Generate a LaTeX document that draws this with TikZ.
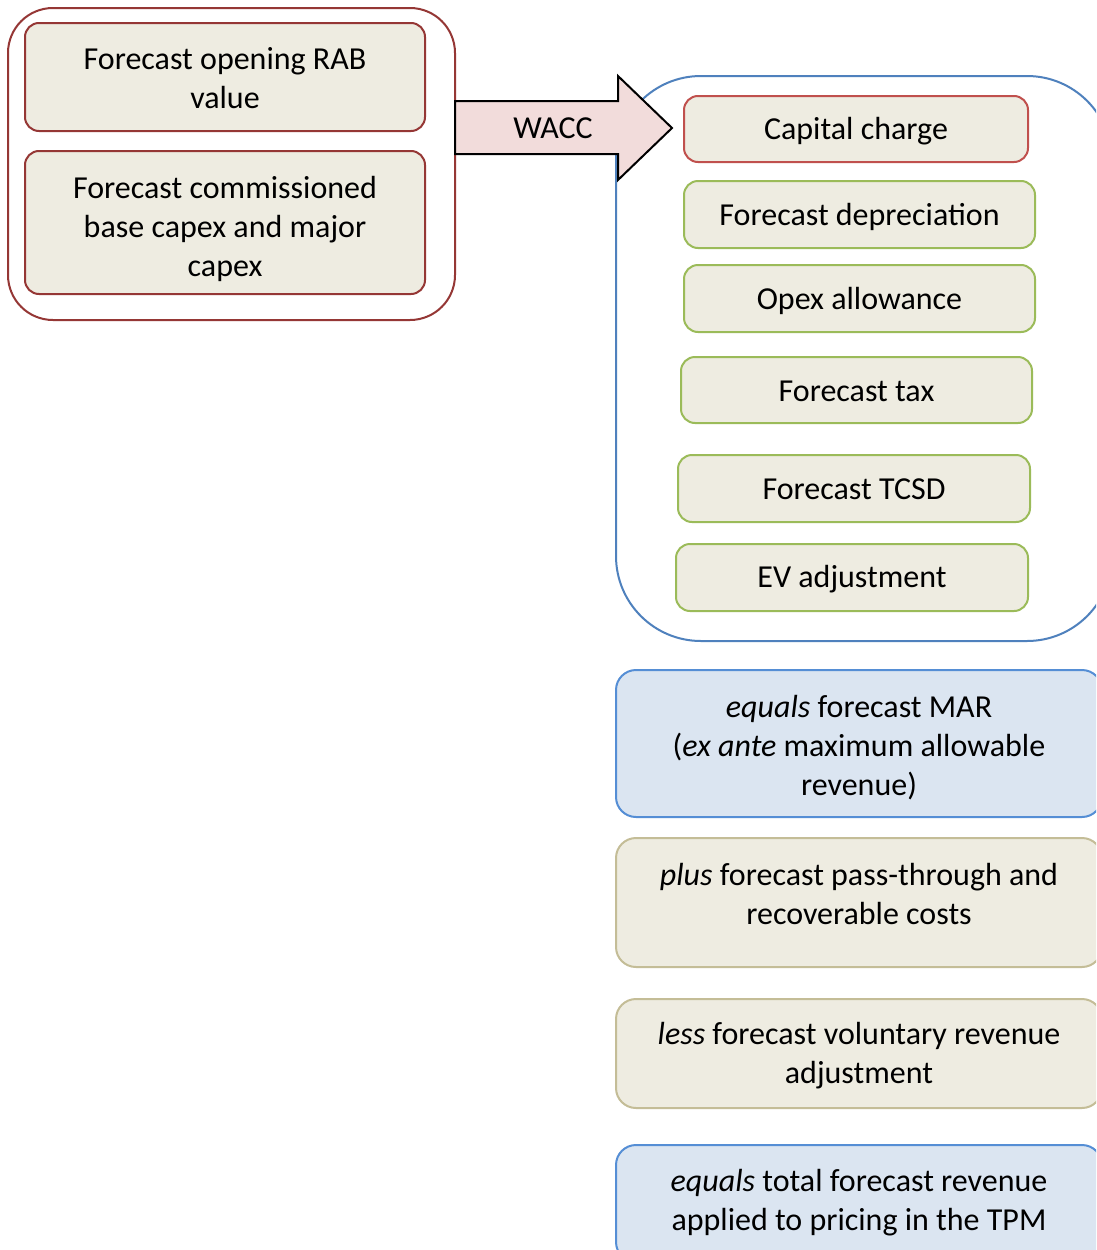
\documentclass[tikz,border=0pt]{standalone}
\usepackage{fontspec}
\setmainfont{Carlito}
\definecolor{boxfill}{HTML}{EEECE1}
\definecolor{bluefill}{HTML}{DBE5F1}
\definecolor{darkred}{HTML}{953735}
\definecolor{midred}{HTML}{C0504D}
\definecolor{leafgreen}{HTML}{9BBB59}
\definecolor{steelblue}{HTML}{4F81BD}
\definecolor{softblue}{HTML}{558ED5}
\definecolor{tan}{HTML}{C4BD97}
\definecolor{arrowpink}{HTML}{F2DCDB}
\begin{document}
\begin{tikzpicture}[x=1pt,y=-1pt,
  every node/.style={font=\fontsize{32}{39}\selectfont, align=center, inner sep=0pt, outer sep=0pt},
  group/.style={draw, line width=2pt, fill=white},
  item/.style={draw, line width=2pt, fill=boxfill, rounded corners=14pt},
  result/.style={draw, line width=2pt, rounded corners=20pt, minimum width=486pt}]
\clip (0,0) rectangle (1096,1250);
\fill[white] (0,0) rectangle (1096,1250);

% Inputs on the left
\node[group, draw=darkred, rounded corners=45pt, minimum width=447pt, minimum height=312pt] (inputs) at (231.5,164) {};
\node[item, draw=darkred, minimum width=400pt, minimum height=108pt] (rab) at (225,77) {};
\node (rabtext) at ([yshift=-1pt]rab.center) {Forecast opening RAB\\value};
\node[item, draw=darkred, minimum width=400pt, minimum height=143pt] (capex) at (225,222.5) {};
\node (capextext) at ([yshift=-6pt]capex.center) {Forecast commissioned\\base capex and major\\capex};

% Building blocks on the right
\node[group, draw=steelblue, rounded corners=85pt, minimum width=496pt, minimum height=565pt] (blocks) at (864,358.5) {};
\node[item, draw=midred, minimum width=344pt, minimum height=66pt] (capital) at (856,129) {};
\node (capitaltext) at ([yshift=-2pt]capital.center) {Capital charge};
\node[item, draw=leafgreen, minimum width=351pt, minimum height=67pt] (dep) at (859.5,214.5) {};
\node (deptext) at ([yshift=-2pt]dep.center) {Forecast depreciation};
\node[item, draw=leafgreen, minimum width=351pt, minimum height=67pt] (opex) at (859.5,298.5) {};
\node (opextext) at ([yshift=-2pt]opex.center) {Opex allowance};
\node[item, draw=leafgreen, minimum width=351pt, minimum height=66pt] (tax) at (856.5,390) {};
\node (taxtext) at ([yshift=-1pt]tax.center) {Forecast tax};
\node[item, draw=leafgreen, minimum width=352pt, minimum height=67pt] (tcsd) at (854,488.5) {};
\node (tcsdtext) at ([yshift=-1pt]tcsd.center) {Forecast TCSD};
\node[item, draw=leafgreen, minimum width=352pt, minimum height=67pt] (ev) at (852,577.5) {};
\node (evtext) at ([yshift=-2pt]ev.center) {EV adjustment};

% WACC block arrow
\draw[line width=2pt, line join=miter, fill=arrowpink]
  (455,101) -- (618,101) -- (618,76) -- (672,128) -- (618,180) -- (618,154) -- (455,154) -- cycle;
\node (wacc) at (553,128) {WACC};

% Revenue build-up
\node[result, draw=softblue, fill=bluefill, minimum height=147pt] (mar) at (859,743.5) {};
\node (martext) at ([yshift=-4pt]mar.center)
  {\textit{equals} forecast MAR\\(\textit{ex ante} maximum allowable\\revenue)};
\node[result, draw=tan, fill=boxfill, minimum height=129pt] (plus) at (859,902.5) {};
\node (plustext) at ([yshift=9pt]plus.center) {\textit{plus} forecast pass-through and\\recoverable costs};
\node[result, draw=tan, fill=boxfill, minimum height=109pt] (less) at (859,1053.5) {};
\node (lesstext) at ([yshift=-2pt]less.center) {\textit{less} forecast voluntary revenue\\adjustment};
\node[result, draw=softblue, fill=bluefill, minimum height=117pt] (total) at (859,1203.5) {};
\node (totaltext) at ([yshift=1pt]total.center) {\textit{equals} total forecast revenue\\applied to pricing in the TPM};
\end{tikzpicture}
\end{document}
